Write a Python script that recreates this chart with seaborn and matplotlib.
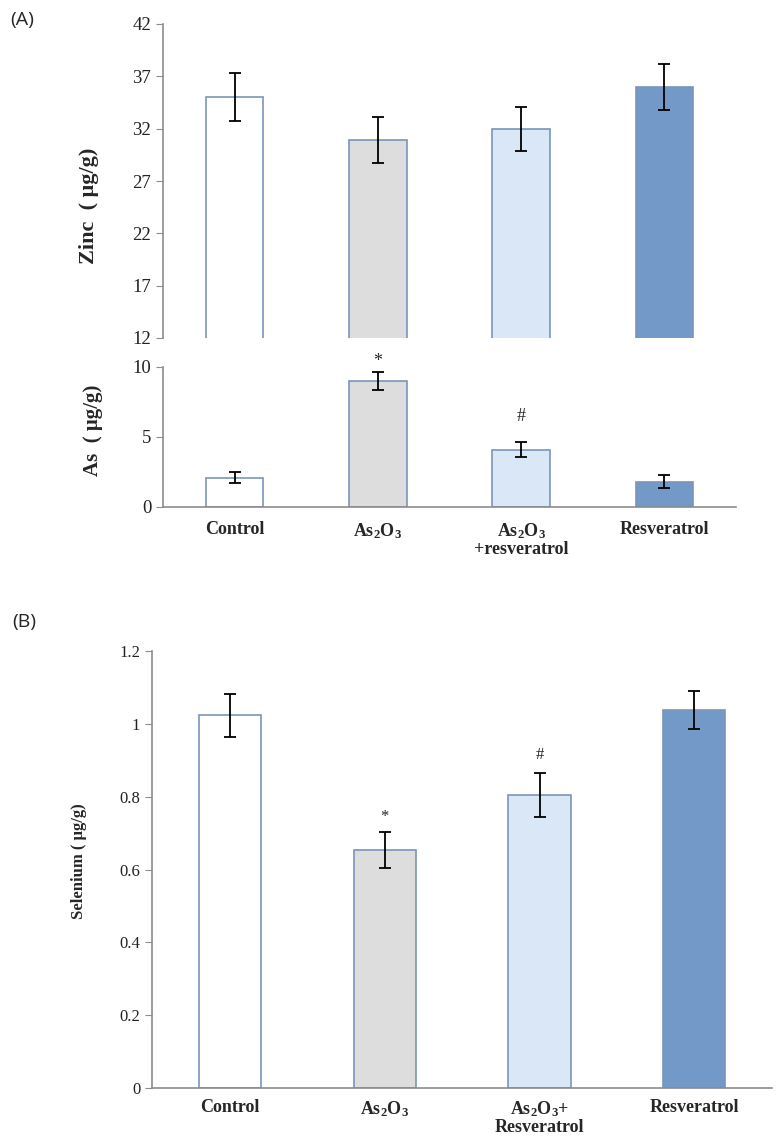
import numpy as np
import pandas as pd
import matplotlib
matplotlib.use("Agg")
import matplotlib.pyplot as plt
import seaborn as sns

# values
groups = ["Control", "As2O3", "As2O3+resveratrol", "Resveratrol"]
zinc_mean = [35.0, 30.9, 32.0, 36.0]
zinc_err = [2.3, 2.2, 2.1, 2.2]
as_mean = [2.1, 9.0, 4.1, 1.8]
as_err = [0.4, 0.65, 0.55, 0.45]
se_mean = [1.023, 0.653, 0.805, 1.038]
se_err = [0.06, 0.05, 0.06, 0.052]

labels_a = ["Control", r"As$_{2}$O$_{3}$", "As$_{2}$O$_{3}$\n+resveratrol", "Resveratrol"]
labels_b = ["Control", r"As$_{2}$O$_{3}$", "As$_{2}$O$_{3}$+\nResveratrol", "Resveratrol"]
as_marks = ["", "*", "#", ""]
se_marks = ["", "*", "#", ""]

sns.set_style("white")
plt.rcParams["font.family"] = ["Liberation Serif", "DejaVu Serif"]
plt.rcParams["mathtext.fontset"] = "custom"
plt.rcParams["mathtext.rm"] = "Liberation Serif:bold"
plt.rcParams["mathtext.it"] = "Liberation Serif:bold"
plt.rcParams["mathtext.bf"] = "Liberation Serif:bold"

fills = ["#ffffff", "#dddddd", "#dae7f6", "#7399c9"]
edge = "#7a95b8"
spine_c = "#8c8c8c"


def bars(ax, mean, err):
    df = pd.DataFrame({"g": groups, "v": mean})
    sns.barplot(data=df, x="g", y="v", hue="g", palette=fills, legend=False,
                saturation=1, width=0.4, edgecolor=edge, linewidth=1.2,
                errorbar=None, ax=ax)
    ax.errorbar(range(len(mean)), mean, yerr=err, fmt="none", ecolor="black",
                elinewidth=1.3, capsize=4, capthick=1.3)
    ax.set_xlim(-0.5, 3.5)
    ax.set_xlabel("")
    for s in ["top", "right"]:
        ax.spines[s].set_visible(False)
    for s in ["left", "bottom"]:
        ax.spines[s].set_color(spine_c)
        ax.spines[s].set_linewidth(1.2)
    ax.tick_params(axis="y", direction="out", length=5, color=spine_c,
                   labelcolor="#222222", left=True)
    ax.tick_params(axis="x", length=0)


fig = plt.figure(figsize=(7.8, 11.44), dpi=100)

# (A) zinc
ax1 = fig.add_axes([163 / 780, 1 - 338 / 1144, (736 - 163) / 780, (338 - 24) / 1144])
bars(ax1, zinc_mean, zinc_err)
ax1.set_ylim(12, 42)
ax1.set_yticks(np.arange(12, 43, 5))
ax1.spines["bottom"].set_visible(False)
ax1.set_xticks([])
ax1.tick_params(axis="y", labelsize=13.5)
ax1.set_ylabel("Zinc  ( μg/g)", fontsize=16, fontweight="bold")
ax1.yaxis.set_label_coords(-0.112, 0.42)

# (A) arsenic
ax2 = fig.add_axes([163 / 780, 1 - 507 / 1144, (736 - 163) / 780, (507 - 367) / 1144])
bars(ax2, as_mean, as_err)
ax2.set_ylim(0, 10)
ax2.set_yticks([0, 5, 10])
ax2.tick_params(axis="y", labelsize=13.5)
ax2.set_xticks(range(4))
ax2.set_xticklabels(labels_a, fontsize=13, fontweight="bold", linespacing=1.0)
ax2.tick_params(axis="x", pad=10)
ax2.set_ylabel("As  ( μg/g)", fontsize=15, fontweight="bold")
ax2.yaxis.set_label_coords(-0.105, 0.55)
for i, m in enumerate(as_marks):
    if m:
        pad = 0.75 if m == "*" else 1.8
        ax2.text(i, as_mean[i] + as_err[i] + pad, m, ha="center", va="center", fontsize=13)

# (B) selenium
ax3 = fig.add_axes([152 / 780, 1 - 1088 / 1144, (772 - 152) / 780, (1088 - 651) / 1144])
bars(ax3, se_mean, se_err)
ax3.set_ylim(0, 1.2)
ax3.set_yticks([0, 0.2, 0.4, 0.6, 0.8, 1.0, 1.2])
ax3.set_yticklabels(["0", "0.2", "0.4", "0.6", "0.8", "1", "1.2"])
ax3.tick_params(axis="y", labelsize=12)
ax3.set_xticks(range(4))
ax3.set_xticklabels(labels_b, fontsize=13, fontweight="bold", linespacing=1.0)
ax3.tick_params(axis="x", pad=8)
ax3.set_ylabel("Selenium ( μg/g)", fontsize=12, fontweight="bold")
ax3.yaxis.set_label_coords(-0.105, 0.52)
for i, m in enumerate(se_marks):
    if m:
        pad = 0.04 if m == "*" else 0.05
        ax3.text(i, se_mean[i] + se_err[i] + pad, m, ha="center", va="center", fontsize=12)

fig.text(10 / 780, 1 - 20 / 1144, "(A)", fontsize=14, family="Open Sans", va="center")
fig.text(12 / 780, 1 - 622 / 1144, "(B)", fontsize=14, family="Open Sans", va="center")

fig.savefig("out.png", dpi=100, facecolor="white")
